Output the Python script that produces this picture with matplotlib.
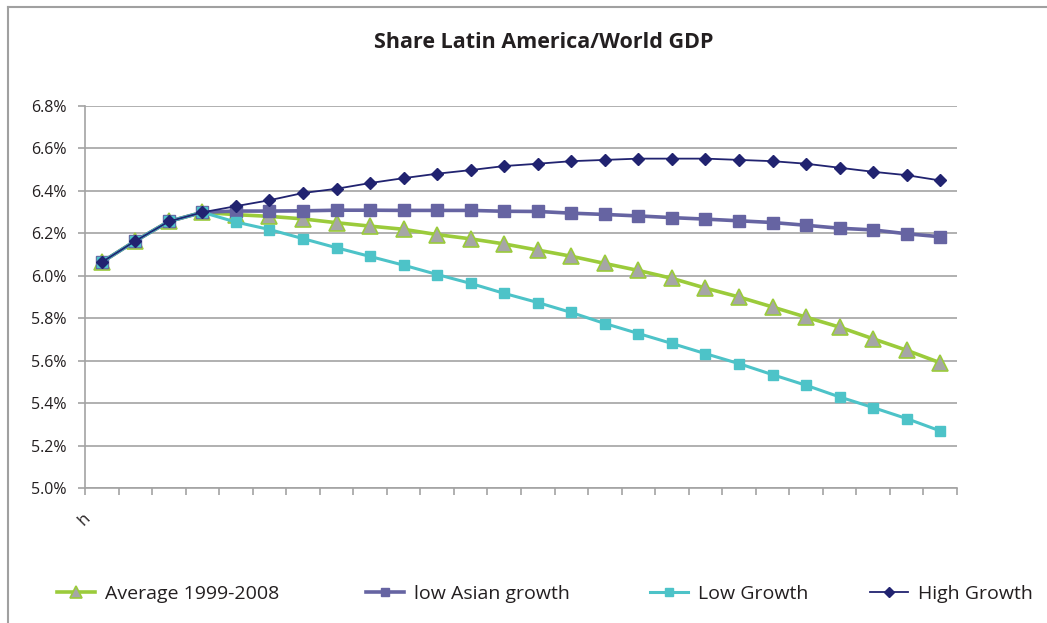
import matplotlib
matplotlib.use("Agg")
import matplotlib.pyplot as plt
from matplotlib.lines import Line2D
from matplotlib.ticker import FuncFormatter, MultipleLocator
from matplotlib.transforms import ScaledTranslation

plt.rcParams['font.family'] = ['Open Sans', 'DejaVu Sans']

categories = ["h"] + [""] * 25

average_1999_2008 = [6.064, 6.164, 6.256, 6.299, 6.288, 6.280, 6.268, 6.250, 6.234, 6.219,
                     6.194, 6.174, 6.150, 6.121, 6.092, 6.058, 6.025, 5.988, 5.942, 5.900,
                     5.853, 5.805, 5.758, 5.703, 5.649, 5.590]
low_asian_growth = [6.064, 6.164, 6.256, 6.299, 6.305, 6.305, 6.306, 6.309, 6.309, 6.308,
                    6.308, 6.308, 6.304, 6.303, 6.295, 6.289, 6.282, 6.274, 6.267, 6.259,
                    6.251, 6.238, 6.224, 6.216, 6.198, 6.184]
low_growth = [6.064, 6.164, 6.256, 6.299, 6.253, 6.218, 6.175, 6.132, 6.091, 6.050,
              6.006, 5.964, 5.917, 5.874, 5.827, 5.775, 5.728, 5.681, 5.633, 5.586,
              5.534, 5.484, 5.429, 5.379, 5.327, 5.269]
high_growth = [6.064, 6.164, 6.256, 6.299, 6.328, 6.356, 6.390, 6.410, 6.437, 6.460,
               6.481, 6.498, 6.517, 6.528, 6.540, 6.546, 6.552, 6.552, 6.552, 6.546,
               6.540, 6.528, 6.509, 6.490, 6.474, 6.449]

GREEN = '#9BCB3B'
GREY = '#A6A6A6'
PURPLE = '#6664A2'
CYAN = '#4DC3C8'
NAVY = '#212370'
AXIS = '#A3A3A3'
TXT = '#231F20'

W, H = 1047, 623
fig = plt.figure(figsize=(W / 100, H / 100), dpi=100)
ax = fig.add_axes([85 / W, 1 - 488 / H, (957 - 85) / W, (488 - 106) / H])

x = list(range(len(categories)))
l1, = ax.plot(x, average_1999_2008, color=GREEN, lw=2.6, marker='^', ms=11,
              markerfacecolor=GREY, markeredgecolor=GREEN, markeredgewidth=1.2, zorder=3)
l2, = ax.plot(x, low_asian_growth, color=PURPLE, lw=2.6, marker='s', ms=8,
              markerfacecolor=PURPLE, markeredgecolor=PURPLE, zorder=4)
l3, = ax.plot(x, low_growth, color=CYAN, lw=2.2, marker='s', ms=7,
              markerfacecolor=CYAN, markeredgecolor=CYAN, zorder=5)
l4, = ax.plot(x, high_growth, color=NAVY, lw=1.3, marker='D', ms=6,
              markerfacecolor=NAVY, markeredgecolor=NAVY, zorder=6)

ax.set_xlim(-0.5, len(categories) - 0.5)
ax.set_ylim(5.0, 6.8)
ax.yaxis.set_major_locator(MultipleLocator(0.2))
ax.yaxis.set_major_formatter(FuncFormatter(lambda v, p: f"{v:.1f}%"))
ax.grid(axis='y', color=AXIS, lw=1.2)
ax.set_axisbelow(True)

# x ticks at category boundaries, labels at centres
ax.set_xticks([i - 0.5 for i in range(len(categories) + 1)])
ax.set_xticklabels([])
ax.set_xticks(x, minor=True)
ax.set_xticklabels(categories, minor=True, rotation=45, ha='right', va='top',
                   rotation_mode='anchor', fontsize=12, color=TXT)
ax.tick_params(axis='x', which='minor', length=0, pad=16)
ax.tick_params(axis='x', which='major', length=5, color=AXIS, width=1.2)
ax.tick_params(axis='y', length=5, color=AXIS, width=1.2, labelsize=11.5,
               labelcolor=TXT, pad=8)
off = ScaledTranslation(-19 / 100, 0 / 100, fig.dpi_scale_trans)
for t in ax.get_xticklabels(minor=True):
    t.set_transform(t.get_transform() + off)

for s in ['top', 'right']:
    ax.spines[s].set_visible(False)
ax.spines['left'].set_color(AXIS)
ax.spines['bottom'].set_color(AXIS)
ax.spines['left'].set_linewidth(1.2)
ax.spines['bottom'].set_linewidth(1.2)

fig.text(544 / W, 1 - 42 / H, "Share Latin America/World GDP", ha='center', va='center',
         fontsize=15.5, fontweight='bold', color=TXT)

# outer frame (left and top)
fig.add_artist(Line2D([8 / W, 8 / W], [0, 1 - 7 / H], color='#A0A0A0', lw=1.5))
fig.add_artist(Line2D([8 / W, 1], [1 - 7 / H, 1 - 7 / H], color='#A0A0A0', lw=1.5))

labels = ["Average 1999-2008", "low Asian growth", "Low Growth", "High Growth"]
handles = [l1, l2, l3, l4]
xs = [57, 366, 650, 870]
for h, lab, xp in zip(handles, labels, xs):
    fig.legend([h], [lab], loc='center left', bbox_to_anchor=(xp / W, 1 - 594 / H),
               frameon=False, fontsize=14, handlelength=1.95, handletextpad=0.5,
               markerscale=0.8, borderpad=0, borderaxespad=0, labelcolor=TXT)

fig.savefig("out.png", dpi=100)
